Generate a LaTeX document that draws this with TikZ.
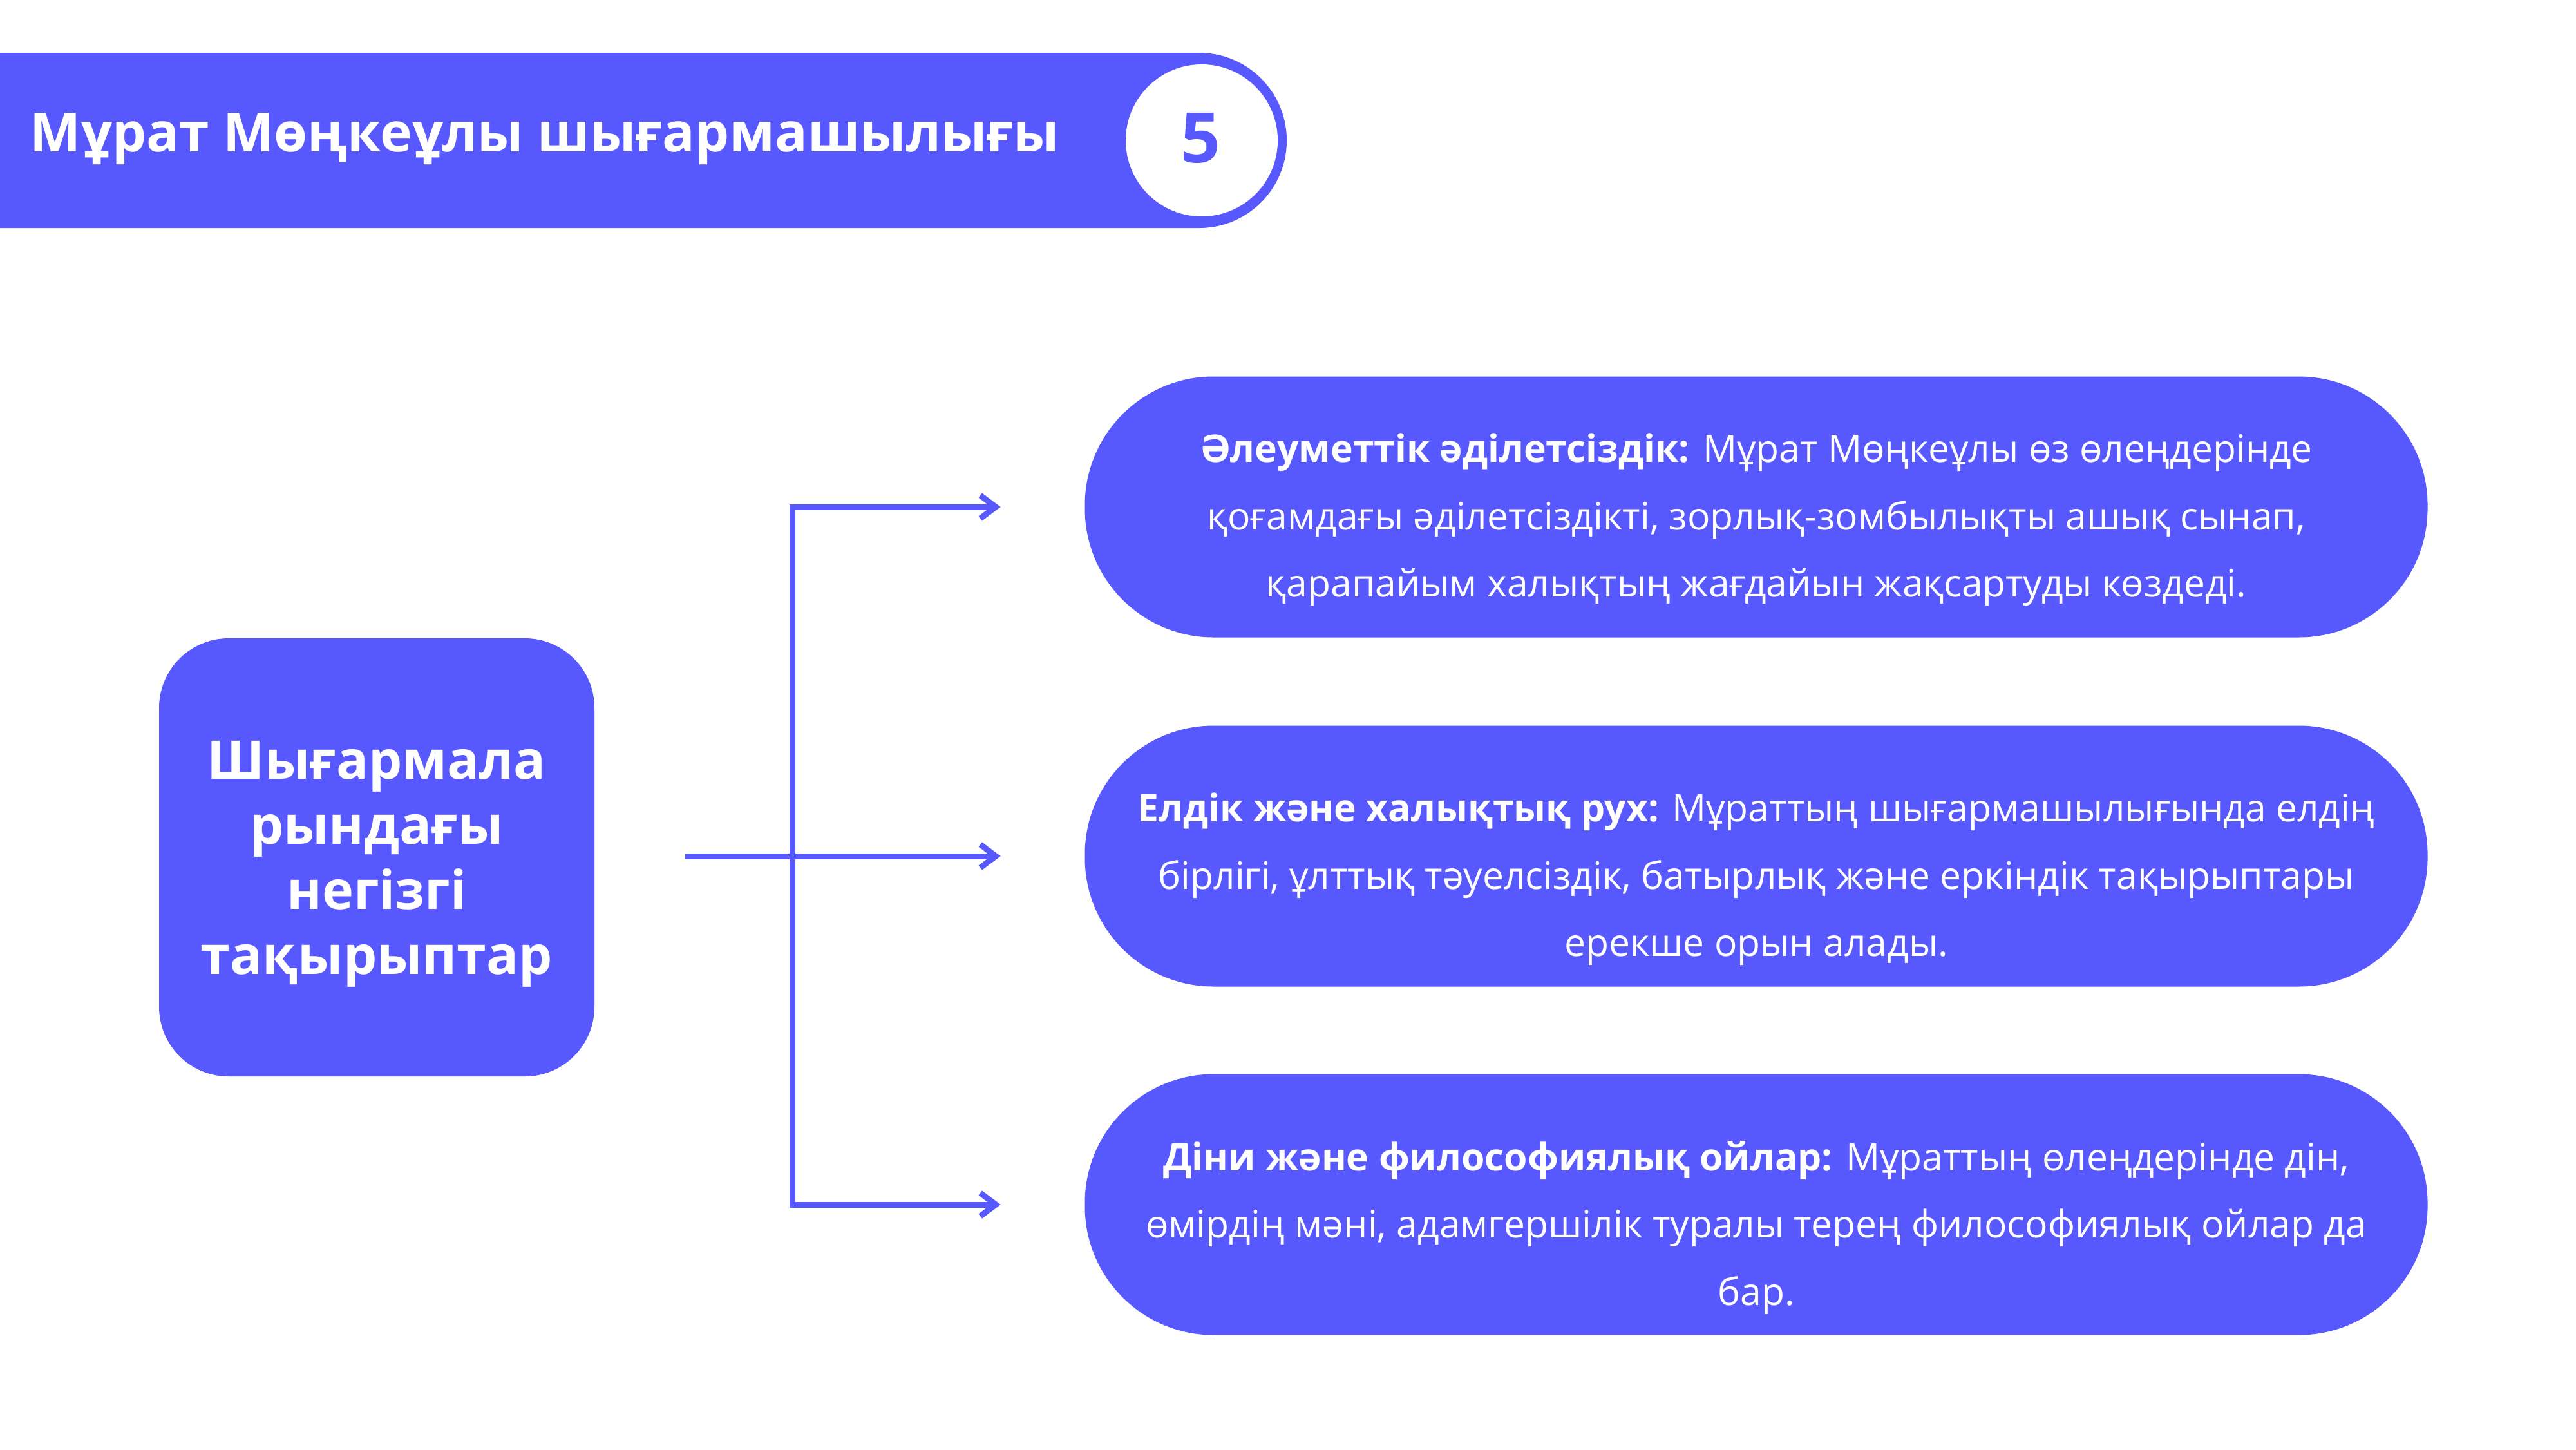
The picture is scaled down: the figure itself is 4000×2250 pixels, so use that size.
\documentclass[tikz,border=0pt]{standalone}
\usepackage{fontspec}
\setmainfont{Open Sans}
\usetikzlibrary{arrows.meta}
\definecolor{brand}{HTML}{5858FF}
\tikzset{
  stadium/.style={fill=brand, rounded corners=50pt, minimum width=521.25pt, minimum height=101.25pt, inner sep=0pt},
  boxtext/.style={text=white, align=center, inner sep=0pt, font=\fontsize{14.7}{26.1}\selectfont},
  hubbox/.style={fill=brand, rounded corners=27pt, minimum width=169pt, minimum height=170pt, inner sep=0pt},
  hubtext/.style={text=white, align=center, inner sep=0pt, yshift=-2.5pt, font=\fontsize{20.7}{25.25}\selectfont\bfseries},
  conn/.style={draw=brand, line width=2.25pt, -{Straight Barb[length=6pt,width=9pt]}},
}
\begin{document}
\begin{tikzpicture}[x=0.25pt,y=-0.25pt]
\useasboundingbox (0,0) rectangle (4000,2250);
\fill[white] (0,0) rectangle (4000,2250);
% header bar
\fill[brand] (-20,82) -- (1862,82) arc[start angle=90, end angle=-90, radius=34pt] -- (-20,354) -- cycle;
\fill[white] (1866,218) circle[radius=29.5pt];
\node[anchor=base west, text=white, font=\fontsize{21}{25}\selectfont\bfseries, inner sep=0pt] (title) at (46,235) {Мұрат Мөңкеұлы шығармашылығы};
\node[text=brand, font=\fontsize{27}{30}\selectfont\bfseries, inner sep=0pt] (num) at (1864,214) {5};
% hub
\node[hubbox] (hub) at (585,1331) {};
\node[hubtext] (hubt) at (hub.center) {Шығармала\\рындағы\\негізгі\\тақырыптар};
% boxes
\node[stadium] (b1) at (2727,787) {};
\node[boxtext, yshift=-5pt] (b1t) at (b1.center) {\textbf{Әлеуметтік әділетсіздік:} Мұрат Мөңкеұлы өз өлеңдерінде\\қоғамдағы әділетсіздікті, зорлық-зомбылықты ашық сынап,\\қарапайым халықтың жағдайын жақсартуды көздеді.};
\node[stadium] (b2) at (2727,1329) {};
\node[boxtext, yshift=-9pt] (b2t) at (b2.center) {\textbf{Елдік және халықтық рух:} Мұраттың шығармашылығында елдің\\бірлігі, ұлттық тәуелсіздік, батырлық және еркіндік тақырыптары\\ерекше орын алады.};
\node[stadium] (b3) at (2727,1870) {};
\node[boxtext, yshift=-9pt] (b3t) at (b3.center) {\textbf{Діни және философиялық ойлар:} Мұраттың өлеңдерінде дін,\\өмірдің мәні, адамгершілік туралы терең философиялық ойлар да\\бар.};
% connectors
\coordinate (fork) at (1230,1329);
\draw[conn, shorten <=35pt, shorten >=32.5pt] (hub.east |- fork) -- (b2.west);
\draw[conn, shorten >=32.5pt] (fork) |- (b1.west);
\draw[conn, shorten >=32.5pt] (fork) |- (b3.west);
\end{tikzpicture}
\end{document}
